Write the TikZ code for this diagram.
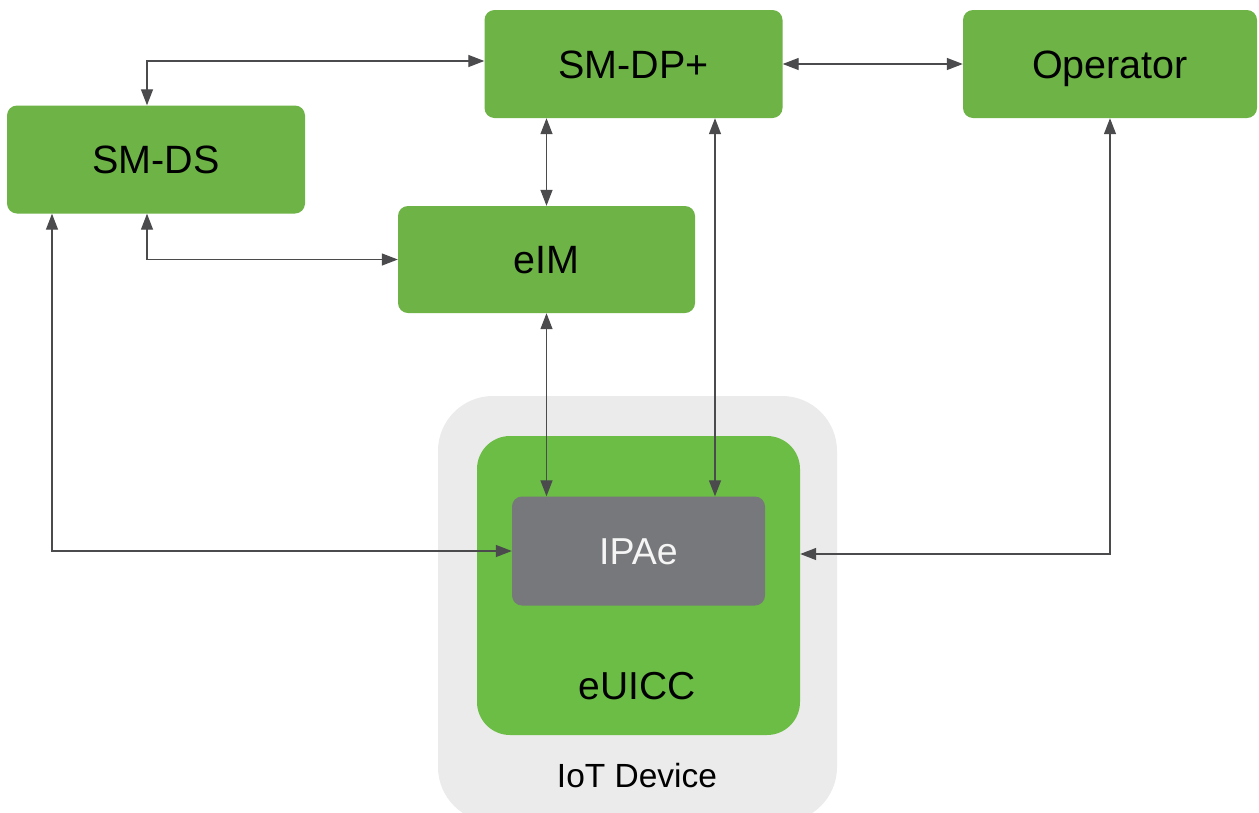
\documentclass[tikz,border=0pt]{standalone}
\usepackage{fontspec}
\setmainfont{Liberation Sans}
\usetikzlibrary{arrows.meta}
\definecolor{boxgreen}{HTML}{6DB346}
\definecolor{chipgreen}{HTML}{6BBD45}
\definecolor{devgray}{HTML}{EBEBEB}
\definecolor{appgray}{HTML}{77787B}
\definecolor{linkgray}{HTML}{4B4B4D}
\tikzset{
  entity/.style={fill=boxgreen, rounded corners=10pt, inner sep=0pt,
    minimum width=298pt, minimum height=108pt,
    font=\fontsize{39.5}{42}\selectfont, text=black,
    text height=28pt, text depth=0pt},
  caption/.style={inner sep=0pt, text depth=0pt},
  link/.style={draw=linkgray, line width=1.3pt,
    {Triangle[length=16pt,width=12pt]}-{Triangle[length=16pt,width=12pt]}},
}
\begin{document}
\begin{tikzpicture}[x=1pt,y=-1pt]
\useasboundingbox (0,0) rectangle (1259,812);
\clip (0,0) rectangle (1259,812);
\fill[white] (0,0) rectangle (1259,812);

% device enclosure, eUICC and application
\fill[devgray, rounded corners=55pt] (438,396) rectangle (837,822);
\node[caption, text height=24pt, font=\fontsize{33.5}{36}\selectfont] (devlabel) at (637,775.5) {IoT Device};
\fill[chipgreen, rounded corners=33pt] (477,436) rectangle (800,735);
\node[inner sep=0pt, minimum width=323pt, minimum height=299pt] (euicc) at (638.5,585.5) {};
\node[caption, text height=28pt, font=\fontsize{39}{42}\selectfont] (euicclabel) at (637,685) {eUICC};
\node[fill=appgray, rounded corners=10pt, inner sep=0pt,
      minimum width=253pt, minimum height=109pt,
      font=\fontsize{37.5}{40}\selectfont, text=white!96!black,
      text height=27pt, text depth=0pt] (ipae) at (638.5,551) {IPAe};

% servers
\node[entity] (smdp) at (633.5,64) {SM-DP+};
\node[entity, minimum width=294pt] (op) at (1110,64) {Operator};
\node[entity] (smds) at (156,159.5) {SM-DS};
\node[entity, minimum width=297pt, minimum height=107pt] (eim) at (546.5,259.5) {eIM};

% interfaces
\draw[link] (smdp.east) -- (op.west);
\draw[link] ([xshift=-9pt]smds.north) |- ([yshift=3pt]smdp.west);
\draw[link] (eim.north |- smdp.south) -- (eim.north);
\draw[link] ([xshift=-9pt]smds.south) |- (eim.west);
\draw[link] ([xshift=-104pt]smds.south) |- (ipae.west);
\draw[link] (eim.south) -- (eim.south |- ipae.north);
\draw[link] (smdp.south -| 715,0) -- (ipae.north -| 715,0);
\coordinate (opin) at (euicc.east |- 0,554);
\draw[link] (op.south) |- (opin);
\end{tikzpicture}
\end{document}
